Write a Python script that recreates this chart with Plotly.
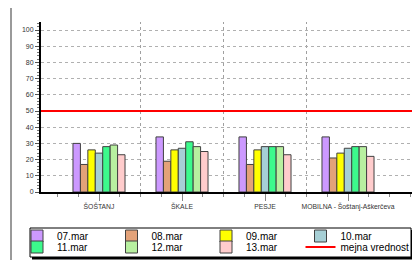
import plotly.graph_objects as go

# ---- data ----
categories = ["ŠOŠTANJ", "ŠKALE", "PESJE", "MOBILNA - Šoštanj-Aškerčeva"]
dates = ["07.mar", "08.mar", "09.mar", "10.mar", "11.mar", "12.mar", "13.mar"]
values = {
    "07.mar": [30, 34, 34, 34],
    "08.mar": [17, 19, 17, 21],
    "09.mar": [26, 26, 26, 24],
    "10.mar": [24, 27, 28, 27],
    "11.mar": [28, 31, 28, 28],
    "12.mar": [29, 28, 28, 28],
    "13.mar": [23, 25, 23, 22],
}
limit_name = "mejna vrednost"
limit_value = 50
y_ticks = [0, 10, 20, 30, 40, 50, 60, 70, 80, 90, 100]

colors = {
    "07.mar": "#CC99FF",
    "08.mar": "#E3A279",
    "09.mar": "#FFFF00",
    "10.mar": "#A6CFD5",
    "11.mar": "#3CFA8C",
    "12.mar": "#B8F0A0",
    "13.mar": "#FFCCCC",
}

# ---- geometry (screen pixels; page body has an 8px margin) ----
OFF = 8
W, H = 420 - OFF, 260 - OFF
L, R, T, B = 41 - OFF, 420 - OFF, 22 - OFF, 192 - OFF
CAT_W = 83.0
FIRST_EDGE = 57.5 - OFF
x_lo = -0.5 - (FIRST_EDGE - L) / CAT_W
x_hi = x_lo + (R - L) / CAT_W
y_hi = 100 * (B - T) / (B - (30 - OFF))


def px_x(p):
    return (p - OFF - L) / (R - L)


def px_y(p):
    return (B - (p - OFF)) / (B - T)


FONT = "Liberation Sans, Arial, sans-serif"
xs = list(range(len(categories)))

fig = go.Figure()
for i, d in enumerate(dates):
    fig.add_trace(go.Bar(
        x=xs, y=values[d], name=d,
        marker=dict(color=colors[d], line=dict(color="#404040", width=1)),
        legend="legend" if i < 4 else "legend2",
    ))

fig.add_trace(go.Scatter(
    x=[x_lo, x_hi], y=[limit_value, limit_value], mode="lines",
    name=limit_name, line=dict(color="#FF0000", width=2),
    legend="legend3", cliponaxis=False,
))

shapes = []
for i in range(len(categories) - 1):
    shapes.append(dict(type="line", xref="x", yref="paper", x0=i + 0.5, x1=i + 0.5,
                       y0=0, y1=1, line=dict(color="#A0A0A0", width=1, dash="3px,3px"),
                       layer="below"))
shapes.append(dict(type="line", xref="paper", yref="paper",
                   x0=px_x(11), x1=px_x(11), y0=px_y(7), y1=px_y(262),
                   line=dict(color="#9A9A9A", width=2)))
shapes.append(dict(type="line", xref="paper", yref="paper",
                   x0=px_x(11), x1=px_x(425), y0=px_y(7), y1=px_y(7),
                   line=dict(color="#9A9A9A", width=2)))
shapes.append(dict(type="rect", xref="paper", yref="paper",
                   x0=px_x(32), x1=px_x(413.5), y0=px_y(230), y1=px_y(259.5),
                   fillcolor="#000000", line=dict(width=0)))
shapes.append(dict(type="rect", xref="paper", yref="paper",
                   x0=px_x(30), x1=px_x(411), y0=px_y(228), y1=px_y(257),
                   fillcolor="#FFFFFF", line=dict(color="#000000", width=1)))

LEG_X = 17
COL_W = 94.5
legend_common = dict(
    orientation="h", bgcolor="rgba(0,0,0,0)", borderwidth=0,
    font=dict(family=FONT, size=10, color="#000000"),
    entrywidth=COL_W - 45, entrywidthmode="pixels",
    xanchor="left", yanchor="middle", traceorder="normal",
    itemclick=False,
)
legend3_opts = dict(legend_common)
legend3_opts["entrywidth"] = 110

fig.update_layout(
    width=W, height=H,
    margin=dict(l=L, r=W - R, t=T, b=H - B, pad=0, autoexpand=False),
    paper_bgcolor="#FFFFFF", plot_bgcolor="#FFFFFF",
    barmode="group", bargap=0.373, bargroupgap=0,
    font=dict(family=FONT, color="#333333"),
    xaxis=dict(
        range=[x_lo, x_hi], tickmode="array", tickvals=xs, ticktext=categories,
        showgrid=False, zeroline=False,
        showline=True, linecolor="#000000", linewidth=2,
        ticks="outside", ticklen=7, tickcolor="#888888", tickwidth=1,
        ticklabelstandoff=0,
        tickfont=dict(family=FONT, size=6.8, color="#333333"),
        minor=dict(tickmode="linear", tick0=0, dtick=0.25, ticks="outside",
                   ticklen=3, tickcolor="#888888", showgrid=False),
    ),
    yaxis=dict(
        range=[0, y_hi], tickmode="array", tickvals=y_ticks,
        showgrid=True, gridcolor="#B0B0B0", gridwidth=1, griddash="3px,3px",
        zeroline=False, showline=True, linecolor="#000000", linewidth=2,
        ticks="outside", ticklen=4, tickcolor="#555555",
        tickfont=dict(family=FONT, size=7, color="#333333"),
        minor=dict(tickmode="linear", tick0=0, dtick=2, ticks="outside",
                   ticklen=2, tickcolor="#777777", showgrid=False),
    ),
    legend=dict(x=px_x(LEG_X), y=px_y(236), **legend_common),
    legend2=dict(x=px_x(LEG_X), y=px_y(247), **legend_common),
    legend3=dict(x=px_x(LEG_X + 3 * COL_W), y=px_y(247), **legend3_opts),
    shapes=shapes,
    showlegend=True,
)

fig.write_html("out.html")
